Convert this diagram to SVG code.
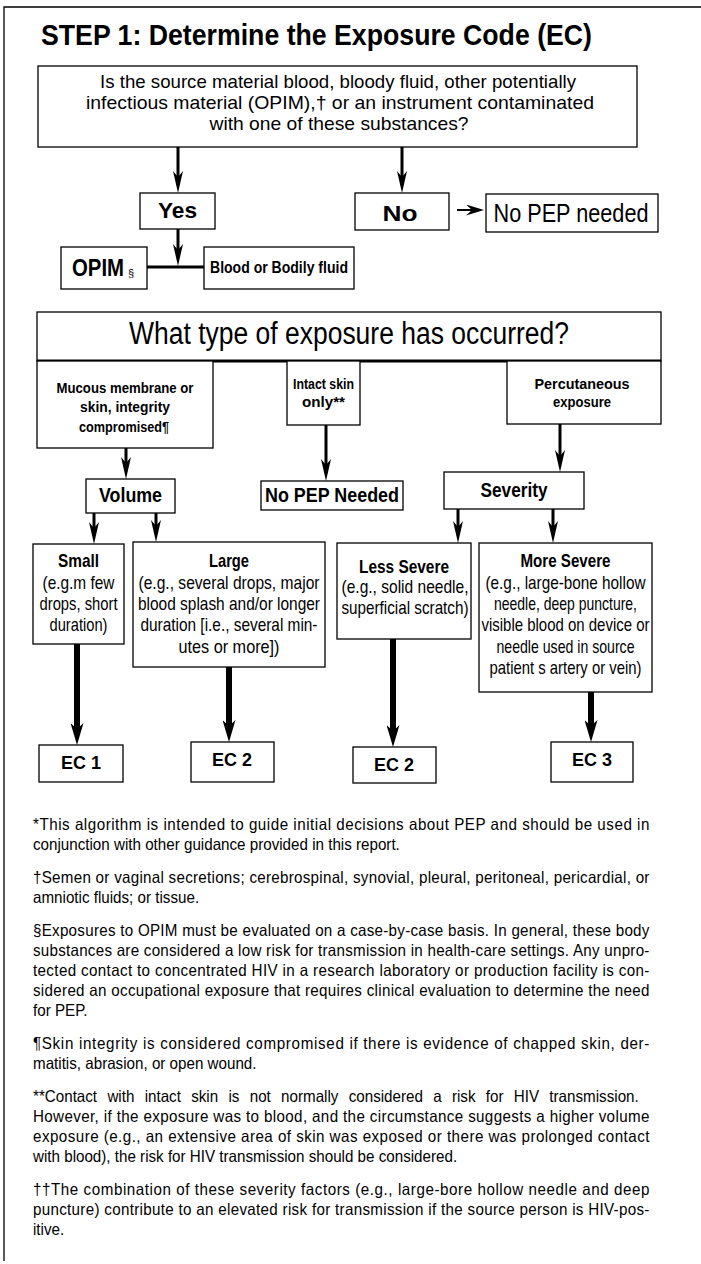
<svg xmlns="http://www.w3.org/2000/svg" width="701" height="1264" viewBox="0 0 701 1264">
<style>
text{font-family:"Liberation Sans",Arial,sans-serif;fill:#000}
.b{font-weight:bold}
.c{text-anchor:middle}
.box{fill:#fff;stroke:#000;stroke-width:1.3}
.ln{stroke:#000;fill:none}
.th{stroke-width:3}
.tk{stroke-width:6}
.fn{font-size:16.5px}
</style>
<defs>
<marker id="aT" viewBox="0 0 22 10" markerWidth="22" markerHeight="10" refX="6" refY="5" orient="auto" markerUnits="userSpaceOnUse"><path d="M0,0 L22,5 L0,10 L6,5 Z" fill="#000"/></marker>
<marker id="aK" viewBox="0 0 22 13" markerWidth="22" markerHeight="13" refX="6" refY="6.5" orient="auto" markerUnits="userSpaceOnUse"><path d="M0,0 L22,6.5 L0,13 L6,6.5 Z" fill="#000"/></marker>
<marker id="aS" viewBox="0 0 18 11" markerWidth="18" markerHeight="11" refX="6" refY="5.5" orient="auto" markerUnits="userSpaceOnUse"><path d="M0,0 L18,5.5 L0,11 L6,5.5 Z" fill="#000"/></marker>
</defs>
<rect width="701" height="1264" fill="#fff"/>
<g id="frame"><path class="ln" stroke-width="1.3" d="M4,1261 V7 H701"/></g>
<g id="title"><text class="b" x="41" y="45" font-size="29" textLength="551" lengthAdjust="spacingAndGlyphs">STEP 1: Determine the Exposure Code (EC)</text></g>

<g id="connectors">
<line class="ln th" x1="178" y1="147" x2="178" y2="177" marker-end="url(#aT)"/>
<line class="ln th" x1="402" y1="147" x2="402" y2="177" marker-end="url(#aT)"/>
<line class="ln" stroke-width="2" x1="457" y1="210" x2="472" y2="210" marker-end="url(#aS)"/>
<line class="ln th" x1="178" y1="229" x2="178" y2="250" marker-end="url(#aT)"/>
<line class="ln th" x1="147" y1="267" x2="204" y2="267"/>
<line class="ln th" x1="126" y1="448" x2="126" y2="463" marker-end="url(#aT)"/>
<line class="ln th" x1="326" y1="425" x2="326" y2="465" marker-end="url(#aT)"/>
<line class="ln th" x1="560" y1="424" x2="560" y2="456" marker-end="url(#aT)"/>
<line class="ln th" x1="94" y1="513" x2="94" y2="528" marker-end="url(#aT)"/>
<line class="ln th" x1="156" y1="513" x2="156" y2="526" marker-end="url(#aT)"/>
<line class="ln th" x1="458" y1="509" x2="458" y2="527" marker-end="url(#aT)"/>
<line class="ln th" x1="553" y1="509" x2="553" y2="527" marker-end="url(#aT)"/>
<line class="ln tk" x1="77" y1="644" x2="77" y2="729" marker-end="url(#aK)"/>
<line class="ln tk" x1="229" y1="667" x2="229" y2="726" marker-end="url(#aK)"/>
<line class="ln tk" x1="393" y1="639" x2="393" y2="731" marker-end="url(#aK)"/>
<line class="ln tk" x1="591" y1="692" x2="591" y2="726" marker-end="url(#aK)"/>
</g>

<g id="question">
<rect class="box" x="38" y="66" width="599" height="81"/>
<text class="c" x="338" y="88" font-size="19" textLength="476" lengthAdjust="spacingAndGlyphs">Is the source material blood, bloody fluid, other potentially</text>
<text class="c" x="340" y="109" font-size="19" textLength="508" lengthAdjust="spacingAndGlyphs">infectious material (OPIM),† or an instrument contaminated</text>
<text class="c" x="339" y="130" font-size="19" textLength="259" lengthAdjust="spacingAndGlyphs">with one of these substances?</text>
</g>
<g id="yes"><rect class="box" x="140" y="193" width="75" height="36"/><text class="b c" x="177.5" y="218" font-size="22" textLength="39" lengthAdjust="spacingAndGlyphs">Yes</text></g>
<g id="no"><rect class="box" x="355" y="193" width="94" height="37"/><text class="b c" x="400" y="221" font-size="22" textLength="35" lengthAdjust="spacingAndGlyphs">No</text></g>
<g id="nopep1"><rect class="box" x="486" y="194" width="172" height="38"/><text class="c" x="571" y="222" font-size="26" textLength="155" lengthAdjust="spacingAndGlyphs">No PEP needed</text></g>
<g id="opim"><rect class="box" x="61" y="247" width="86" height="42"/><text class="b" x="72" y="276" font-size="23" textLength="52" lengthAdjust="spacingAndGlyphs">OPIM</text><text x="128" y="277" font-size="11">§</text></g>
<g id="blood"><rect class="box" x="204" y="247" width="150" height="42"/><text class="b c" x="279" y="273" font-size="17" textLength="138" lengthAdjust="spacingAndGlyphs">Blood or Bodily fluid</text></g>

<g id="exposure">
<rect class="box" x="37" y="312" width="624" height="49"/>
<line class="ln th" x1="37" y1="361" x2="661" y2="361"/>
<text class="c" x="349" y="344" font-size="31" textLength="440" lengthAdjust="spacingAndGlyphs">What type of exposure has occurred?</text>
</g>
<g id="mucous"><rect class="box" x="37" y="361" width="176" height="87"/>
<text class="b c" x="125" y="393" font-size="15" textLength="137" lengthAdjust="spacingAndGlyphs">Mucous membrane or</text>
<text class="b c" x="125" y="412" font-size="15" textLength="90" lengthAdjust="spacingAndGlyphs">skin, integrity</text>
<text class="b c" x="124" y="432" font-size="15" textLength="90" lengthAdjust="spacingAndGlyphs">compromised¶</text></g>
<g id="intact"><rect class="box" x="287" y="361" width="73" height="64"/>
<text class="b c" x="323.5" y="389" font-size="15" textLength="61" lengthAdjust="spacingAndGlyphs">Intact skin</text>
<text class="b c" x="323.5" y="407" font-size="15" textLength="43" lengthAdjust="spacingAndGlyphs">only**</text></g>
<g id="percut"><rect class="box" x="507" y="361" width="154" height="63"/>
<text class="b c" x="582" y="389" font-size="15" textLength="95" lengthAdjust="spacingAndGlyphs">Percutaneous</text>
<text class="b c" x="582" y="407" font-size="15" textLength="58" lengthAdjust="spacingAndGlyphs">exposure</text></g>

<g id="volume"><rect class="box" x="86" y="479" width="89" height="34"/><text class="b c" x="130.5" y="502" font-size="20" textLength="63" lengthAdjust="spacingAndGlyphs">Volume</text></g>
<g id="nopep2"><rect class="box" x="261" y="481" width="142" height="29"/><text class="b c" x="332" y="502" font-size="20" textLength="134" lengthAdjust="spacingAndGlyphs">No PEP Needed</text></g>
<g id="severity"><rect class="box" x="444" y="472" width="140" height="37"/><text class="b c" x="514" y="497" font-size="20" textLength="67" lengthAdjust="spacingAndGlyphs">Severity</text></g>

<g id="small"><rect class="box" x="33" y="544" width="91" height="100"/>
<text class="b c" x="78.5" y="567" font-size="18.5" textLength="41" lengthAdjust="spacingAndGlyphs">Small</text>
<text class="c" x="78.5" y="589" font-size="18.5" textLength="72" lengthAdjust="spacingAndGlyphs">(e.g.m few</text>
<text class="c" x="78.5" y="610" font-size="18.5" textLength="78" lengthAdjust="spacingAndGlyphs">drops, short</text>
<text class="c" x="78.5" y="631" font-size="18.5" textLength="58" lengthAdjust="spacingAndGlyphs">duration)</text></g>
<g id="large"><rect class="box" x="133" y="542" width="192" height="125"/>
<text class="b c" x="229" y="567" font-size="18.5" textLength="40" lengthAdjust="spacingAndGlyphs">Large</text>
<text class="c" x="229" y="589" font-size="18.5" textLength="181" lengthAdjust="spacingAndGlyphs">(e.g., several drops, major</text>
<text class="c" x="229" y="610" font-size="18.5" textLength="182" lengthAdjust="spacingAndGlyphs">blood splash and/or longer</text>
<text class="c" x="229" y="631" font-size="18.5" textLength="177" lengthAdjust="spacingAndGlyphs">duration [i.e., several min-</text>
<text class="c" x="229" y="653" font-size="18.5" textLength="101" lengthAdjust="spacingAndGlyphs">utes or more])</text></g>
<g id="less"><rect class="box" x="337" y="543" width="134" height="96"/>
<text class="b c" x="404" y="573" font-size="18.5" textLength="90" lengthAdjust="spacingAndGlyphs">Less Severe</text>
<text class="c" x="405" y="593" font-size="18.5" textLength="127" lengthAdjust="spacingAndGlyphs">(e.g., solid needle,</text>
<text class="c" x="405" y="614" font-size="18.5" textLength="127" lengthAdjust="spacingAndGlyphs">superficial scratch)</text></g>
<g id="more"><rect class="box" x="479" y="543" width="173" height="149"/>
<text class="b c" x="565.5" y="567" font-size="18.5" textLength="90" lengthAdjust="spacingAndGlyphs">More Severe</text>
<text class="c" x="565.5" y="589" font-size="18.5" textLength="160" lengthAdjust="spacingAndGlyphs">(e.g., large-bone hollow</text>
<text class="c" x="565.5" y="610" font-size="18.5" textLength="143" lengthAdjust="spacingAndGlyphs">needle, deep puncture,</text>
<text class="c" x="565.5" y="631" font-size="18.5" textLength="168" lengthAdjust="spacingAndGlyphs">visible blood on device or</text>
<text class="c" x="565.5" y="653" font-size="18.5" textLength="138" lengthAdjust="spacingAndGlyphs">needle used in source</text>
<text class="c" x="565.5" y="674" font-size="18.5" textLength="152" lengthAdjust="spacingAndGlyphs">patient s artery or vein)</text></g>

<g id="ec1"><rect class="box" x="39" y="745" width="84" height="37"/><text class="b c" x="81" y="769" font-size="18" textLength="40" lengthAdjust="spacingAndGlyphs">EC 1</text></g>
<g id="ec2a"><rect class="box" x="191" y="742" width="83" height="40"/><text class="b c" x="232" y="766" font-size="18" textLength="40" lengthAdjust="spacingAndGlyphs">EC 2</text></g>
<g id="ec2b"><rect class="box" x="353" y="747" width="83" height="36"/><text class="b c" x="394" y="771" font-size="18" textLength="40" lengthAdjust="spacingAndGlyphs">EC 2</text></g>
<g id="ec3"><rect class="box" x="551" y="742" width="82" height="40"/><text class="b c" x="592" y="766" font-size="18" textLength="40" lengthAdjust="spacingAndGlyphs">EC 3</text></g>

<g id="footnotes" transform="translate(33,0) scale(0.92,1)">
<text class="fn" x="0" y="830" textLength="670" lengthAdjust="spacing">*This algorithm is intended to guide initial decisions about PEP and should be used in</text>
<text class="fn" x="0" y="850">conjunction with other guidance provided in this report.</text>
<text class="fn" x="0" y="883" textLength="670" lengthAdjust="spacing">†Semen or vaginal secretions; cerebrospinal, synovial, pleural, peritoneal, pericardial, or</text>
<text class="fn" x="0" y="903">amniotic fluids; or tissue.</text>
<text class="fn" x="0" y="936" textLength="670" lengthAdjust="spacing">§Exposures to OPIM must be evaluated on a case-by-case basis. In general, these body</text>
<text class="fn" x="0" y="956" textLength="670" lengthAdjust="spacing">substances are considered a low risk for transmission in health-care settings. Any unpro-</text>
<text class="fn" x="0" y="976" textLength="670" lengthAdjust="spacing">tected contact to concentrated HIV in a research laboratory or production facility is con-</text>
<text class="fn" x="0" y="996" textLength="670" lengthAdjust="spacing">sidered an occupational exposure that requires clinical evaluation to determine the need</text>
<text class="fn" x="0" y="1016">for PEP.</text>
<text class="fn" x="0" y="1049" textLength="670" lengthAdjust="spacing">¶Skin integrity is considered compromised if there is evidence of chapped skin, der-</text>
<text class="fn" x="0" y="1069">matitis, abrasion, or open wound.</text>
<text class="fn" x="0" y="1102" word-spacing="6.6">**Contact with intact skin is not normally considered a risk for HIV transmission.</text>
<text class="fn" x="0" y="1122" textLength="670" lengthAdjust="spacing">However, if the exposure was to blood, and the circumstance suggests a higher volume</text>
<text class="fn" x="0" y="1142" textLength="670" lengthAdjust="spacing">exposure (e.g., an extensive area of skin was exposed or there was prolonged contact</text>
<text class="fn" x="0" y="1162">with blood), the risk for HIV transmission should be considered.</text>
<text class="fn" x="0" y="1195" textLength="670" lengthAdjust="spacing">††The combination of these severity factors (e.g., large-bore hollow needle and deep</text>
<text class="fn" x="0" y="1215" textLength="670" lengthAdjust="spacing">puncture) contribute to an elevated risk for transmission if the source person is HIV-pos-</text>
<text class="fn" x="0" y="1235">itive.</text>
</g>
</svg>
